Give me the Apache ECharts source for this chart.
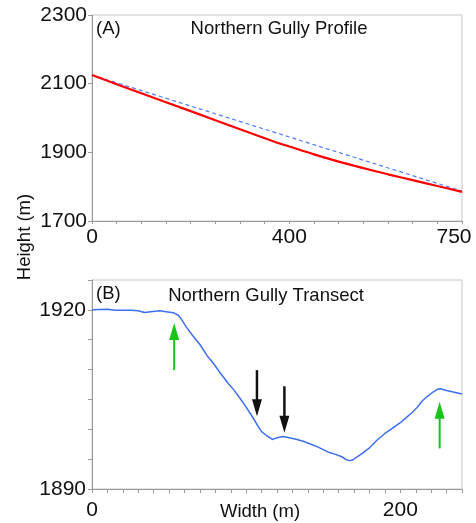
<!DOCTYPE html>
<html>
<head>
<meta charset="utf-8">
<script src="https://cdn.jsdelivr.net/npm/echarts@6/dist/echarts.min.js"></script>
<style>
html,body{margin:0;padding:0;background:#fff;}
#chart{width:476px;height:523px;}
</style>
</head>
<body>
<div id="chart"></div>
<script>
// ---- Panel A: Northern Gully Profile ----
const profileDist = [0, 100, 200, 300, 370, 400, 450, 500, 550, 600, 650, 700, 750];
const profileHeight = [2125, 2072, 2020, 1967, 1931, 1917, 1894, 1873, 1854, 1836, 1819, 1802, 1785];
const profileChordDist = [0, 750];
const profileChordHeight = [2125, 1787];
const profileXLabels = [0, 400, 750];
const profileYLabels = [1700, 1900, 2100, 2300];

// ---- Panel B: Northern Gully Transect ----
const transectWidth = [0,5,10,15,20,25,30,34,38,44,48,53,56,58,61,65,70,75,77,80,83,88,92,96,100,104,108,110,113,117,120,124,128,133,137,142,146,150,154,158,162,165,167,169,172,176,180,185,190,195,200,204,208,211,214,217,221,224,226,230,235,240];
const transectHeight = [1920,1920.05,1920.1,1919.95,1919.95,1919.95,1919.85,1919.55,1919.7,1919.85,1919.7,1919.5,1919.1,1918.4,1917.2,1915.8,1914.2,1912.2,1911.6,1910.6,1909.5,1907.8,1906.6,1905.2,1903.7,1902.1,1900.4,1899.6,1899.0,1898.3,1898.6,1898.8,1898.6,1898.3,1898.0,1897.5,1897.1,1896.6,1896.1,1895.8,1895.4,1894.9,1894.75,1894.85,1895.4,1896.1,1896.9,1898.2,1899.3,1900.2,1901.1,1902.0,1902.9,1903.7,1904.7,1905.4,1906.2,1906.7,1906.8,1906.5,1906.2,1905.9];
const transectXLabels = [0, 200];
const transectYLabels = [1890, 1920];

// arrows: x position, tail height, tip height, colour
const arrowX = [53.3, 225.5, 107, 124.8];
const arrowTail = [1909.9, 1896.8, 1909.9, 1907.2];
const arrowTip = [1917.8, 1904.6, 1902.2, 1899.4];
const arrowColor = ['#17c417', '#17c417', '#111111', '#111111'];

const FONT = 'Arial, "Liberation Sans", sans-serif';
const AXIS_COLOR = '#9a9a9a';

const chart = echarts.init(document.getElementById('chart'), null, {renderer: 'canvas'});

function axisCommon() {
  return {
    axisLine: {show: true, lineStyle: {color: AXIS_COLOR, width: 1}},
    axisTick: {show: true, inside: false, length: 4, lineStyle: {color: AXIS_COLOR}},
    splitLine: {show: false},
  };
}

const option = {
  backgroundColor: '#fff',
  animation: false,
  grid: [
    {left: 92, right: 14, top: 15, height: 206, show: true, borderColor: '#c8c8c8', borderWidth: 1},
    {left: 92, right: 14, top: 280, height: 209, show: true, borderColor: '#c8c8c8', borderWidth: 1}
  ],
  xAxis: [
    Object.assign(axisCommon(), {
      type: 'value', gridIndex: 0, min: 0, max: 750, interval: 50,
      axisTick: {show: true, length: 3, lineStyle: {color: AXIS_COLOR}},
      axisLabel: {
        fontSize: 21, color: '#111', fontFamily: FONT, margin: 6,
        formatter: v => profileXLabels.includes(v) ? (v === 750 ? '{r|' + v + '}' : String(v)) : '',
        rich: {r: {fontSize: 21, color: '#111', fontFamily: FONT, padding: [0, 16, 0, 0]}}
      }
    }),
    Object.assign(axisCommon(), {
      type: 'value', gridIndex: 1, min: 0, max: 240, interval: 10,
      axisLabel: {
        fontSize: 21, color: '#111', fontFamily: FONT, margin: 11,
        formatter: v => transectXLabels.includes(v) ? String(v) : ''
      }
    })
  ],
  yAxis: [
    Object.assign(axisCommon(), {
      type: 'value', gridIndex: 0, min: 1700, max: 2300, interval: 200,
      axisLabel: {fontSize: 21, color: '#111', fontFamily: FONT, margin: 5,
        formatter: v => profileYLabels.includes(v) ? String(v) : ''}
    }),
    Object.assign(axisCommon(), {
      type: 'value', gridIndex: 1, min: 1890, max: 1925, interval: 5,
      axisLabel: {fontSize: 21, color: '#111', fontFamily: FONT, margin: 6,
        formatter: v => transectYLabels.includes(v) ? String(v) : ''}
    })
  ],
  series: [
    {
      type: 'line', xAxisIndex: 0, yAxisIndex: 0, symbol: 'none',
      data: profileChordDist.map((d, i) => [d, profileChordHeight[i]]),
      lineStyle: {color: '#4f7cff', width: 1.2, type: [4, 3]}, z: 2
    },
    {
      type: 'line', xAxisIndex: 0, yAxisIndex: 0, symbol: 'none', smooth: 0.3,
      data: profileDist.map((d, i) => [d, profileHeight[i]]),
      lineStyle: {color: '#ff0000', width: 2.2}, z: 3
    },
    {
      type: 'line', xAxisIndex: 1, yAxisIndex: 1, symbol: 'none',
      data: transectWidth.map((d, i) => [d, transectHeight[i]]),
      lineStyle: {color: '#3f6ff0', width: 1.5}
    },
    {
      type: 'custom', xAxisIndex: 1, yAxisIndex: 1, clip: false,
      data: arrowX.map((x, i) => [x, arrowTail[i], arrowTip[i], i]),
      renderItem: function (params, api) {
        const i = api.value(3);
        const tail = api.coord([api.value(0), api.value(1)]);
        const tip = api.coord([api.value(0), api.value(2)]);
        const dir = tip[1] > tail[1] ? 1 : -1;
        const headLen = 17, headW = 10;
        const col = arrowColor[i];
        const shaftW = col === '#111111' ? 2.5 : 2;
        const baseY = tip[1] - dir * headLen;
        return {
          type: 'group',
          children: [
            {type: 'line', shape: {x1: tail[0], y1: tail[1], x2: tip[0], y2: baseY + dir * 2},
             style: {stroke: col, lineWidth: shaftW}},
            {type: 'polygon', shape: {points: [[tip[0], tip[1]], [tip[0] - headW / 2, baseY], [tip[0] + headW / 2, baseY]]},
             style: {fill: col}}
          ]
        };
      }
    }
  ],
  graphic: [
    {type: 'text', style: {x: 96, y: 29, text: '(A)', fontSize: 18.5, fontFamily: FONT, fill: '#111', textAlign: 'left', textVerticalAlign: 'middle'}},
    {type: 'text', style: {x: 279, y: 28.5, text: 'Northern Gully Profile', fontSize: 18.5, fontFamily: FONT, fill: '#111', textAlign: 'center', textVerticalAlign: 'middle'}},
    {type: 'text', style: {x: 96, y: 294, text: '(B)', fontSize: 18.5, fontFamily: FONT, fill: '#111', textAlign: 'left', textVerticalAlign: 'middle'}},
    {type: 'text', style: {x: 266, y: 296, text: 'Northern Gully Transect', fontSize: 18.5, fontFamily: FONT, fill: '#111', textAlign: 'center', textVerticalAlign: 'middle'}},
    {type: 'text', x: 25, y: 237, rotation: Math.PI / 2, style: {x: 0, y: 0, text: 'Height (m)', fontSize: 18.5, fontFamily: FONT, fill: '#111', textAlign: 'center', textVerticalAlign: 'middle'}},
    {type: 'text', style: {x: 260, y: 512, text: 'Width (m)', fontSize: 18.5, fontFamily: FONT, fill: '#111', textAlign: 'center', textVerticalAlign: 'middle'}}
  ]
};
chart.setOption(option);
</script>
</body>
</html>
